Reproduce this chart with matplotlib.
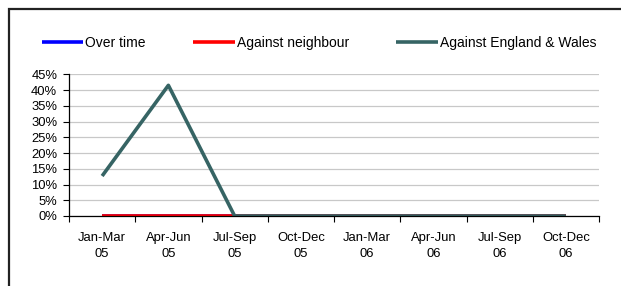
import numpy as np
import matplotlib
matplotlib.use('Agg')
from matplotlib import pyplot as plt
from matplotlib.patches import Rectangle
from matplotlib.ticker import FixedLocator, PercentFormatter

# 数据
quarters = ['Jan-Mar\n05', 'Apr-Jun\n05', 'Jul-Sep\n05', 'Oct-Dec\n05',
            'Jan-Mar\n06', 'Apr-Jun\n06', 'Jul-Sep\n06', 'Oct-Dec\n06']
over_time = [0, 0, 0, 0, 0, 0, 0, 0]
against_neighbour = [0, 0, 0, 0, 0, 0, 0, 0]
against_ew = [12.7, 41.5, 0, 0, 0, 0, 0, 0]
series_names = ['Over time', 'Against neighbour', 'Against England & Wales']

plt.rcParams['font.family'] = ['Liberation Sans', 'DejaVu Sans']
fs = 9.4      # 坐标轴文字
fs_leg = 10   # 图例文字

W, H = 621, 286
fig = plt.figure(figsize=(W/100, H/100), dpi=100)
# 外框（右侧和底部超出画面）
fig.patches.append(Rectangle((8.5/W, -0.1), 1.2, 1 - 9/H + 0.1, transform=fig.transFigure,
                             fill=False, edgecolor='#222222', linewidth=1.6))

ax = fig.add_axes([69/W, 1 - 216/H, (599 - 69)/W, (216 - 74.3)/H])
x = np.arange(len(quarters))
ax.plot(x, over_time, color='#0000ff', lw=2.6, solid_capstyle='butt', label=series_names[0])
ax.plot(x, against_neighbour, color='#ff0000', lw=2.6, solid_capstyle='butt', label=series_names[1])
ax.plot(x, against_ew, color='#366464', lw=2.6, solid_capstyle='butt', label=series_names[2])

ax.set_xlim(-0.5, len(quarters) - 0.5)
ax.set_ylim(0, 45)
ax.set_yticks(np.arange(0, 46, 5))
ax.yaxis.set_major_formatter(PercentFormatter(decimals=0))
ax.grid(axis='y', color='#c8c8c8', lw=0.9)
ax.set_axisbelow(True)
ax.xaxis.set_major_locator(FixedLocator(np.arange(-0.5, len(quarters), 1.0)))
ax.set_xticklabels([])
ax.xaxis.set_minor_locator(FixedLocator(x))
ax.set_xticklabels(quarters, minor=True, linespacing=1.42)
ax.tick_params(axis='x', which='major', direction='out', length=4, width=0.8, color='black')
ax.tick_params(axis='x', which='minor', length=0, pad=11.5, labelsize=fs)
ax.tick_params(axis='y', direction='out', length=4, width=0.8, color='black', pad=4.5, labelsize=fs)
for s in ['top', 'right']:
    ax.spines[s].set_visible(False)
for s in ['bottom', 'left']:
    ax.spines[s].set_color('black')
    ax.spines[s].set_linewidth(0.9)

leg = fig.legend(loc='center left', bbox_to_anchor=(41.6/W, 1 - 43/H), ncol=3, frameon=False,
                 fontsize=fs_leg, handlelength=3.0, handletextpad=0.15, columnspacing=3.4,
                 borderpad=0, borderaxespad=0)

fig.savefig('out.png', dpi=100)
